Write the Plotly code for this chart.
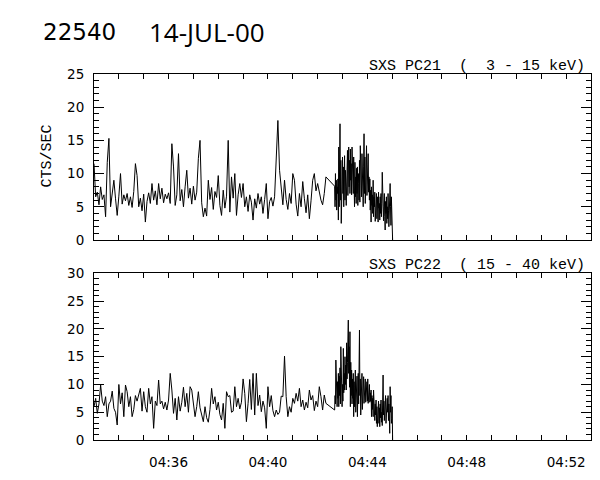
import plotly.graph_objects as go
import pandas as pd

# ---------------- data ----------------
obs_id = "22540"
obs_date = "14-JUL-00"
title_pc21 = "SXS PC21  (  3 - 15 keV)"
title_pc22 = "SXS PC22  ( 15 - 40 keV)"
y_label = "CTS/SEC"

start_a = "2000-07-14 04:33:00"   # 4-s bins
step_a = "4s"
start_b = "2000-07-14 04:42:41"   # 1-s bins
step_b = "1s"
x_range = ["2000-07-14 04:33:00", "2000-07-14 04:53:00"]

pc21_a = [
    11.5, 6.5, 7.2, 5.3, 8.0, 6.1, 6.8, 3.5, 11.7, 15.3,
    5.0, 7.5, 9.0, 6.2, 3.7, 6.6, 10.0, 5.4, 6.8, 5.9,
    7.0, 5.2, 6.5, 4.9, 7.3, 11.5, 9.7, 5.0, 6.3, 4.4,
    6.9, 2.7, 5.8, 7.1, 5.5, 8.5, 6.0, 7.4, 5.3, 8.5,
    6.2, 7.8, 5.6, 6.9, 6.2, 7.1, 5.5, 14.5, 11.0, 5.2,
    6.8, 13.0, 5.9, 7.6, 5.0, 8.0, 10.5, 6.3, 7.8, 5.4,
    8.1, 6.0, 7.2, 12.3, 15.0, 5.6, 3.5, 4.8, 3.6, 9.0,
    6.1, 7.9, 4.6, 7.3, 6.4, 9.7, 5.2, 3.7, 7.5, 4.8,
    6.6, 15.0, 4.2, 9.5, 6.3, 10.0, 3.7, 6.8, 8.5, 6.4,
    8.5, 5.0, 6.5, 4.3, 6.8, 5.7, 3.0, 6.2, 4.8, 7.0,
    5.4, 6.5, 4.0, 6.1, 8.5, 3.2, 5.8, 6.4, 5.1, 6.5,
    13.0, 18.0, 10.5, 7.2, 5.3, 9.0, 6.1, 4.6, 7.0, 5.5,
    10.0, 9.0, 5.4, 3.6, 7.0, 5.0, 8.8, 6.2, 4.1, 6.8,
    3.2, 5.9, 9.0, 10.0, 7.4, 8.5, 7.0, 6.0, 5.3, 7.0,
    9.5,
]
pc21_b = [
    8.1, 5.0, 10.0, 6.0, 9.0, 4.5, 8.0, 7.0, 9.2, 3.0,
    14.0, 5.0, 11.0, 17.5, 6.0, 12.0, 2.5, 10.0, 5.5, 12.5,
    7.0, 11.0, 5.0, 9.5, 12.7, 6.0, 10.5, 8.0, 5.2, 11.5,
    7.5, 13.5, 6.7, 10.0, 14.0, 8.0, 12.0, 7.0, 13.7, 9.0,
    11.5, 6.8, 14.0, 8.5, 10.5, 7.0, 12.5, 9.0, 5.0, 11.7,
    6.5, 9.5, 5.5, 10.8, 7.0, 11.0, 5.2, 8.5, 10.0, 6.0,
    12.0, 5.7, 14.2, 8.0, 10.5, 6.5, 13.0, 7.5, 9.0, 5.0,
    11.0, 16.0, 7.0, 12.5, 5.5, 10.0, 8.5, 14.2, 6.7, 11.5,
    8.0, 13.0, 7.2, 9.5, 6.0, 9.2, 4.5, 7.5, 2.7, 8.0,
    5.2, 6.8, 4.0, 9.0, 3.5, 6.5, 5.0, 7.2, 2.8, 6.0,
    4.5, 7.0, 3.2, 5.8, 6.5, 2.7, 7.2, 4.8, 5.5, 3.0,
    6.5, 4.0, 7.0, 3.5, 5.5, 10.2, 4.2, 6.0, 2.9, 5.0,
    7.0, 3.5, 1.5, 5.8, 4.0, 6.5, 2.5, 5.0, 3.2, 7.0,
    4.5, 2.0, 6.0, 3.5, 8.5, 5.0, 2.2, 6.5, 3.0, 0.5,
    0.0,
]
pc22_a = [
    6.0, 7.5, 4.8, 6.5, 9.9, 7.0, 6.2, 7.8, 4.2, 6.5,
    7.0, 8.8, 5.7, 5.0, 2.7, 10.0, 6.5, 8.5, 4.2, 9.9,
    8.7, 6.0, 7.8, 4.2, 5.5, 8.0, 7.0, 8.0, 9.3, 5.2,
    8.7, 6.0, 5.0, 9.3, 6.5, 7.8, 2.1, 7.0, 6.2, 10.8,
    6.5, 7.0, 5.6, 6.8, 5.4, 7.2, 12.0, 9.0, 4.8, 7.5,
    3.6, 7.8, 5.2, 6.8, 9.5, 6.0, 8.4, 5.0, 9.6, 9.0,
    6.6, 4.2, 6.0, 8.7, 5.8, 4.5, 3.3, 6.0, 4.0, 3.2,
    5.5, 9.3, 6.5, 7.8, 5.4, 6.8, 4.6, 3.6, 6.6, 2.1,
    8.7, 7.8, 8.0, 5.0, 5.2, 9.6, 6.0, 7.5, 5.6, 6.8,
    11.0, 8.4, 3.3, 6.6, 10.9, 5.5, 12.0, 4.5, 12.0, 6.2,
    8.1, 5.1, 7.0, 5.8, 2.1, 9.6, 6.0, 8.0, 5.3, 4.2,
    5.4, 4.6, 5.0, 7.9, 7.8, 15.1, 7.8, 4.2, 6.0, 5.0,
    7.5, 6.6, 8.4, 7.0, 9.3, 6.0, 7.2, 5.4, 6.8, 5.8,
    9.0, 7.2, 8.0, 5.3, 7.0, 6.0, 9.6, 7.8, 5.4, 8.1,
    6.6,
]
pc22_b = [
    5.4, 8.0, 6.5, 14.4, 9.0, 13.2, 6.0, 10.5, 7.5, 12.0,
    6.0, 11.5, 8.0, 13.0, 6.5, 16.8, 9.0, 12.6, 6.0, 10.0,
    7.0, 16.5, 8.5, 12.0, 9.0, 15.0, 10.0, 13.5, 9.0, 17.5,
    11.0, 14.0, 18.0, 21.6, 12.0, 16.8, 9.5, 19.5, 6.0, 14.0,
    8.0, 12.6, 6.5, 11.0, 7.5, 12.0, 4.2, 10.5, 6.0, 9.5,
    12.6, 5.0, 10.0, 7.0, 11.5, 4.2, 9.0, 12.0, 6.5, 10.5,
    19.8, 8.0, 11.0, 4.5, 9.5, 7.0, 12.0, 5.5, 10.0, 8.5,
    11.4, 6.6, 10.0, 7.5, 11.0, 6.8, 9.5, 8.0, 10.5, 7.0,
    11.0, 6.6, 9.0, 7.5, 10.0, 6.8, 8.5, 7.0, 9.0, 4.2,
    8.0, 5.5, 7.5, 4.2, 9.0, 5.0, 7.0, 3.5, 6.5, 4.5,
    7.2, 3.0, 6.0, 2.4, 5.5, 4.0, 7.0, 3.0, 5.8, 2.4,
    6.5, 4.0, 7.2, 3.2, 5.0, 2.6, 6.0, 11.7, 4.5, 7.0,
    3.5, 6.5, 4.5, 8.0, 3.0, 6.5, 4.0, 7.5, 5.0, 8.0,
    3.5, 6.5, 4.5, 1.2, 9.6, 5.0, 8.0, 3.0, 3.9, 6.0,
    0.0,
]
y1_range = [0, 25]
y2_range = [0, 30]

# ---------------- figure ----------------
t_a = pd.date_range(start_a, periods=len(pc21_a), freq=step_a)
t_b = pd.date_range(start_b, periods=len(pc21_b), freq=step_b)
t_all = list(t_a) + list(t_b)

fig = go.Figure()
fig.add_trace(go.Scatter(x=t_all, y=pc21_a + pc21_b, mode="lines",
                         line=dict(color="black", width=1),
                         xaxis="x", yaxis="y", showlegend=False))
fig.add_trace(go.Scatter(x=t_all, y=pc22_a + pc22_b, mode="lines",
                         line=dict(color="black", width=1),
                         xaxis="x2", yaxis="y2", showlegend=False))

num_font = dict(family="DejaVu Sans", size=13.5, color="black")
mono_font = dict(family="Liberation Mono", size=15, color="black")

xcommon = dict(type="date", range=x_range, tick0="2000-07-14 04:32:00",
               dtick=240000, tickformat="%H:%M", ticks="inside", ticklen=5,
               tickcolor="black", showline=True, linecolor="black",
               linewidth=1, mirror="ticks", showgrid=False, zeroline=False,
               minor=dict(dtick=60000, ticks="inside", ticklen=5,
                          tickcolor="black", showgrid=False),
               tickfont=num_font, ticklabelstandoff=10)
ycommon = dict(dtick=5, ticks="inside", ticklen=10, tickcolor="black",
               showline=True, linecolor="black", linewidth=1, mirror="ticks",
               showgrid=False, zeroline=False,
               minor=dict(dtick=1, ticks="inside", ticklen=5,
                          tickcolor="black", showgrid=False),
               tickfont=num_font, ticklabelstandoff=6)

# the page body adds an 8 px offset; work in page pixels and convert
OFF = 8
W, H = 600 - 2 * OFF, 480 - 2 * OFF
frame_l, frame_r, frame_t, frame_b = 94, 591, 73.5, 440
L = frame_l - OFF
R = W - (frame_r - OFF)
T = frame_t - OFF
B = H - (frame_b - OFF)
pw = W - L - R
ph = H - T - B


def px(x):
    return (x - OFF - L) / pw


def py(y):
    return (H - B - (y - OFF)) / ph


fig.update_layout(
    width=W, height=H,
    margin=dict(l=L, r=R, t=T, b=B, autoexpand=False),
    paper_bgcolor="white", plot_bgcolor="white",
    xaxis=dict(xcommon, domain=[0, 1], anchor="y", showticklabels=False),
    yaxis=dict(ycommon, domain=[py(239.7), 1], anchor="x", range=y1_range),
    xaxis2=dict(xcommon, domain=[0, 1], anchor="y2", matches="x"),
    yaxis2=dict(ycommon, domain=[0, py(273.2)], anchor="x2", range=y2_range),
    annotations=[
        dict(text=obs_id, x=px(41), y=py(31), xref="paper", yref="paper",
             xanchor="left", yanchor="middle", showarrow=False,
             font=dict(family="DejaVu Sans", size=23, color="black")),
        dict(text=obs_date, x=px(147), y=py(31), xref="paper", yref="paper",
             xanchor="left", yanchor="middle", showarrow=False,
             font=dict(family="Open Sans", size=26, color="black")),
        dict(text=title_pc21, x=px(587), y=py(66), xref="paper", yref="paper",
             xanchor="right", yanchor="middle", showarrow=False, font=mono_font),
        dict(text=title_pc22, x=px(587), y=py(265.5), xref="paper", yref="paper",
             xanchor="right", yanchor="middle", showarrow=False, font=mono_font),
        dict(text=y_label, x=px(47), y=py(156), xref="paper", yref="paper",
             xanchor="center", yanchor="middle", showarrow=False, textangle=-90,
             font=dict(family="Liberation Mono", size=15, color="black")),
    ],
)

fig.write_html("out.html")
